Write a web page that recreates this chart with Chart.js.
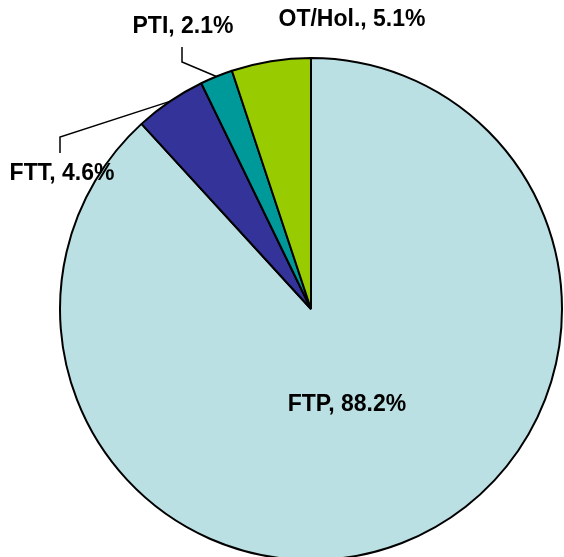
<!DOCTYPE html>
<html>
<head>
<meta charset="utf-8">
<script src="https://cdn.jsdelivr.net/npm/chart.js@4.4.1/dist/chart.umd.min.js"></script>
<style>
  body { margin: 0; background: #fff; }
  #wrap { width: 564px; height: 557px; position: relative; }
</style>
</head>
<body>
<div id="wrap"><canvas id="pieChart"></canvas></div>
<script>
// data
var categories = ['FTP', 'FTT', 'PTI', 'OT/Hol.'];
var shares = [88.2, 4.6, 2.1, 5.1];
var sliceColors = ['#BAE0E3', '#333399', '#009999', '#99CC00'];

// where each label sits (manually placed, like the original)
var labelPos = [
    { x: 347, y: 405 },
    { x: 62, y: 174 },
    { x: 183, y: 27 },
    { x: 352, y: 20 }
];
// leader lines: elbow point and end point near the label, null = none
var leaders = [
    null,
    { elbow: { x: 60, y: 137 }, end: { x: 60, y: 153 } },
    { elbow: { x: 182, y: 62 }, end: { x: 182, y: 47 } },
    null
];

var pieLabels = {
    id: 'pieLabels',
    afterDatasetsDraw: function(chart) {
        var ctx = chart.ctx;
        var meta = chart.getDatasetMeta(0);
        ctx.save();
        meta.data.forEach(function(arc, i) {
            var p = arc.getProps(['x', 'y', 'startAngle', 'endAngle', 'outerRadius'], true);
            var mid = (p.startAngle + p.endAngle) / 2;
            var lead = leaders[i];
            if (lead) {
                ctx.beginPath();
                ctx.strokeStyle = '#000';
                ctx.lineWidth = 1.5;
                ctx.moveTo(p.x + Math.cos(mid) * p.outerRadius, p.y + Math.sin(mid) * p.outerRadius);
                ctx.lineTo(lead.elbow.x, lead.elbow.y);
                ctx.lineTo(lead.end.x, lead.end.y);
                ctx.stroke();
            }
            ctx.fillStyle = '#000';
            ctx.font = 'bold 23px "Liberation Sans", Arial, sans-serif';
            ctx.textAlign = 'center';
            ctx.textBaseline = 'middle';
            ctx.fillText(categories[i] + ', ' + shares[i].toFixed(1) + '%', labelPos[i].x, labelPos[i].y);
        });
        ctx.restore();
    }
};

var ctx = document.getElementById('pieChart').getContext('2d');
var pieChart = new Chart(ctx, {
    type: 'pie',
    plugins: [pieLabels],
    data: {
        labels: categories,
        datasets: [{
            data: shares,
            backgroundColor: sliceColors,
            borderColor: '#000',
            borderWidth: 2,
            radius: 251,
            hoverOffset: 0
        }]
    },
    options: {
        responsive: true,
        maintainAspectRatio: false,
        animation: false,
        layout: { padding: { left: 58, top: 61, right: 0, bottom: 0 } },
        plugins: {
            legend: { display: false },
            tooltip: { enabled: false }
        }
    }
});
</script>
</body>
</html>
